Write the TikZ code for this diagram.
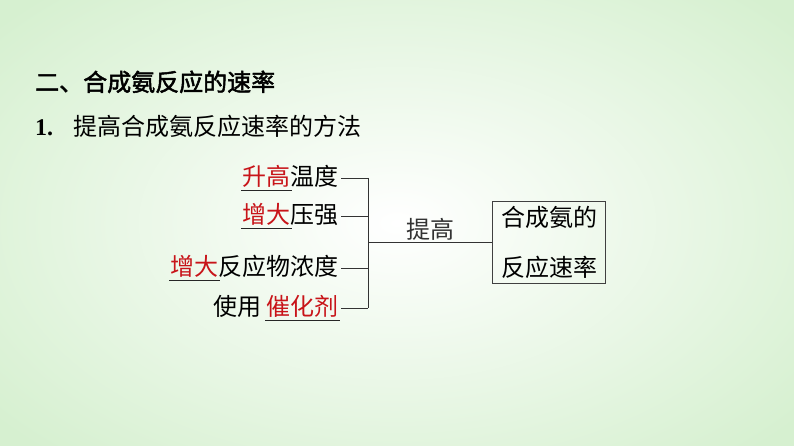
\documentclass[tikz,border=0pt]{standalone}
\usepackage{fontspec}
\newfontfamily\cjk{Noto Sans CJK SC}
\newfontfamily\cjkb[FakeBold=2]{Noto Sans CJK SC}
\newfontfamily\numfont{Liberation Serif}
\usetikzlibrary{positioning,calc}
\definecolor{keyred}{RGB}{200,20,25}
\definecolor{bggreen}{RGB}{214,240,208}
% red key word with a black line under it
\newcommand\keyw[1]{\setbox0\hbox{\textcolor{keyred}{#1}}%
	\rlap{\hspace{-1.5pt}\textcolor{black!85}{\rule[-5pt]{\dimexpr\wd0+3pt\relax}{0.8pt}}}\box0}
\tikzset{
	cn/.style={inner sep=0pt, font=\cjk\fontsize{24}{50}\selectfont},
	item/.style={cn, anchor=east, inner xsep=2pt},
}

\begin{document}
\begin{tikzpicture}[x=1pt,y=-1pt]
	\useasboundingbox (0,0) rectangle (794,446);
	\shade[inner color=white, outer color=bggreen] (-120,-90) rectangle (914,536);
	% headings
	\node[cn, anchor=base west] (head) at (35,91) {\cjkb 二、合成氨反应的速率};
	\node[cn, anchor=base west] (sub) at (35,136) {{\numfont\bfseries 1.}\hspace{20pt}提高合成氨反应速率的方法};
	% the four measures
	\node[item] (temp) at (341,178) {\keyw{升高}温度};
	\node[item] (press) at (341,216) {\keyw{增大}压强};
	\node[item] (conc) at (341,268) {\keyw{增大}反应物浓度};
	\node[item] (cat) at (341,308) {使用 \keyw{催化剂}};
	\node[cn, draw=black!75, line width=0.7pt, align=center, minimum width=113, minimum height=82] (goal) at (549,242) {合成氨的\\反应速率};
	\coordinate (bar) at (368,242);
	\foreach \n in {temp,press,conc,cat}
		\draw[black!80, line width=0.7pt] (\n.east) -- (\n.east -| bar);
	\draw[black!80, line width=0.7pt] (temp.east -| bar) -- (cat.east -| bar);
	\draw[black!80, line width=0.7pt] (bar) -- node[cn, above=1pt] (raise) {提高} (goal.west);
\end{tikzpicture}
\end{document}
